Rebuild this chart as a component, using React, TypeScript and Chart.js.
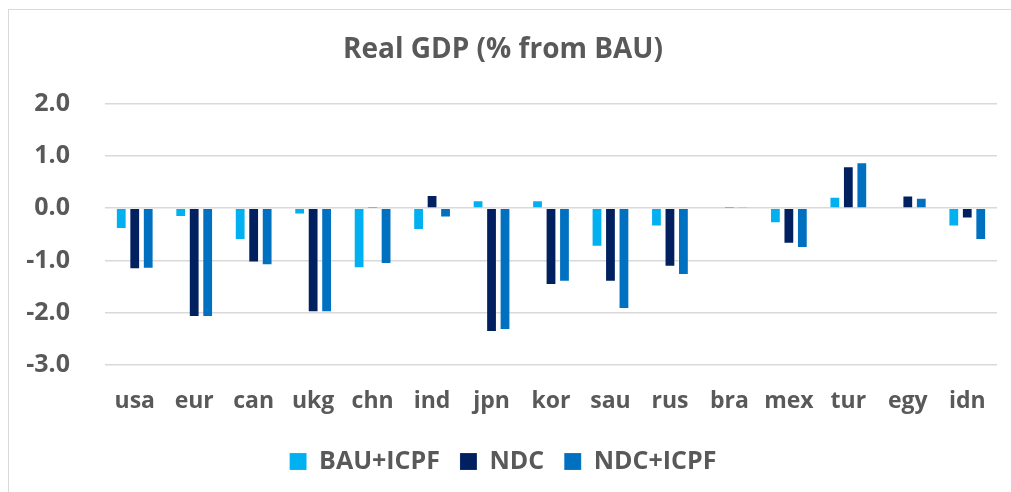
import React, { useEffect, useRef } from "react";
import { Chart, registerables } from "chart.js";

Chart.register(...registerables);

const categories = ["usa", "eur", "can", "ukg", "chn", "ind", "jpn", "kor", "sau", "rus", "bra", "mex", "tur", "egy", "idn"];
const bauIcpf = [-0.40, -0.17, -0.61, -0.12, -1.15, -0.42, 0.15, 0.15, -0.74, -0.35, 0.0, -0.29, 0.22, 0.01, -0.35];
const ndc = [-1.17, -2.08, -1.04, -1.99, 0.03, 0.25, -2.37, -1.47, -1.41, -1.12, 0.03, -0.68, 0.80, 0.24, -0.20];
const ndcIcpf = [-1.16, -2.08, -1.09, -1.99, -1.07, -0.18, -2.33, -1.41, -1.93, -1.28, 0.005, -0.76, 0.88, 0.20, -0.61];
const yTicks = [2, 1, 0, -1, -2, -3];

const FONT = "'Open Sans', 'Noto Sans', sans-serif";
const TEXT = "#595959";

export default function App() {
  const ref = useRef<HTMLCanvasElement | null>(null);
  useEffect(() => {
    if (!ref.current) return;
    const chart = new Chart(ref.current, {
      type: "bar",
      data: {
        labels: categories,
        datasets: [
          { label: "BAU+ICPF", data: bauIcpf, backgroundColor: "#00B0F0", borderColor: "rgba(255,255,255,0.15)", borderWidth: 1 },
          { label: "NDC", data: ndc, backgroundColor: "#002060", borderColor: "rgba(255,255,255,0.15)", borderWidth: 1 },
          { label: "NDC+ICPF", data: ndcIcpf, backgroundColor: "#0070C0", borderColor: "rgba(255,255,255,0.15)", borderWidth: 1 },
        ],
      },
      options: {
        responsive: false,
        animation: false,
        layout: { padding: { left: 0, right: 14, top: 0, bottom: 8 } },
        datasets: { bar: { categoryPercentage: 0.68, barPercentage: 0.8 } },
        plugins: {
          title: {
            display: true,
            text: "Real GDP (% from BAU)",
            color: TEXT,
            font: { family: FONT, size: 28, weight: "bold" },
            padding: { top: 23, bottom: 37 },
          },
          legend: {
            position: "bottom",
            labels: {
              boxWidth: 17,
              boxHeight: 17,
              padding: 20,
              color: TEXT,
              font: { family: FONT, size: 25, weight: "bold" },
            },
          },
          tooltip: { enabled: false },
        },
        scales: {
          x: {
            grid: { display: false, drawTicks: false },
            border: { display: false },
            ticks: { color: TEXT, font: { family: FONT, size: 23, weight: "bold" }, padding: 23 },
            afterFit: (s: any) => { s.height = 64; },
          },
          y: {
            min: -3,
            max: 2,
            afterBuildTicks: (s: any) => { s.ticks = yTicks.map((v) => ({ value: v })); },
            grid: { color: "#d9d9d9", lineWidth: 1.5, drawTicks: false },
            border: { display: false },
            ticks: {
              color: TEXT,
              font: { family: FONT, size: 25, weight: "bold" },
              padding: 35,
              callback: (v: any) => Number(v).toFixed(1),
            },
            afterFit: (s: any) => { s.width = 96; },
          },
        },
      },
    });
    return () => chart.destroy();
  }, []);
  return (
    <div
      style={{
        position: "absolute",
        left: 8,
        top: 9,
        width: 1003,
        height: 483,
        borderLeft: "1px solid #d9d9d9",
        borderTop: "1px solid #d9d9d9",
        boxSizing: "border-box",
        overflow: "hidden",
        background: "#fff",
      }}
    >
      <canvas ref={ref} width={1002} height={482} style={{ display: "block" }} />
    </div>
  );
}
